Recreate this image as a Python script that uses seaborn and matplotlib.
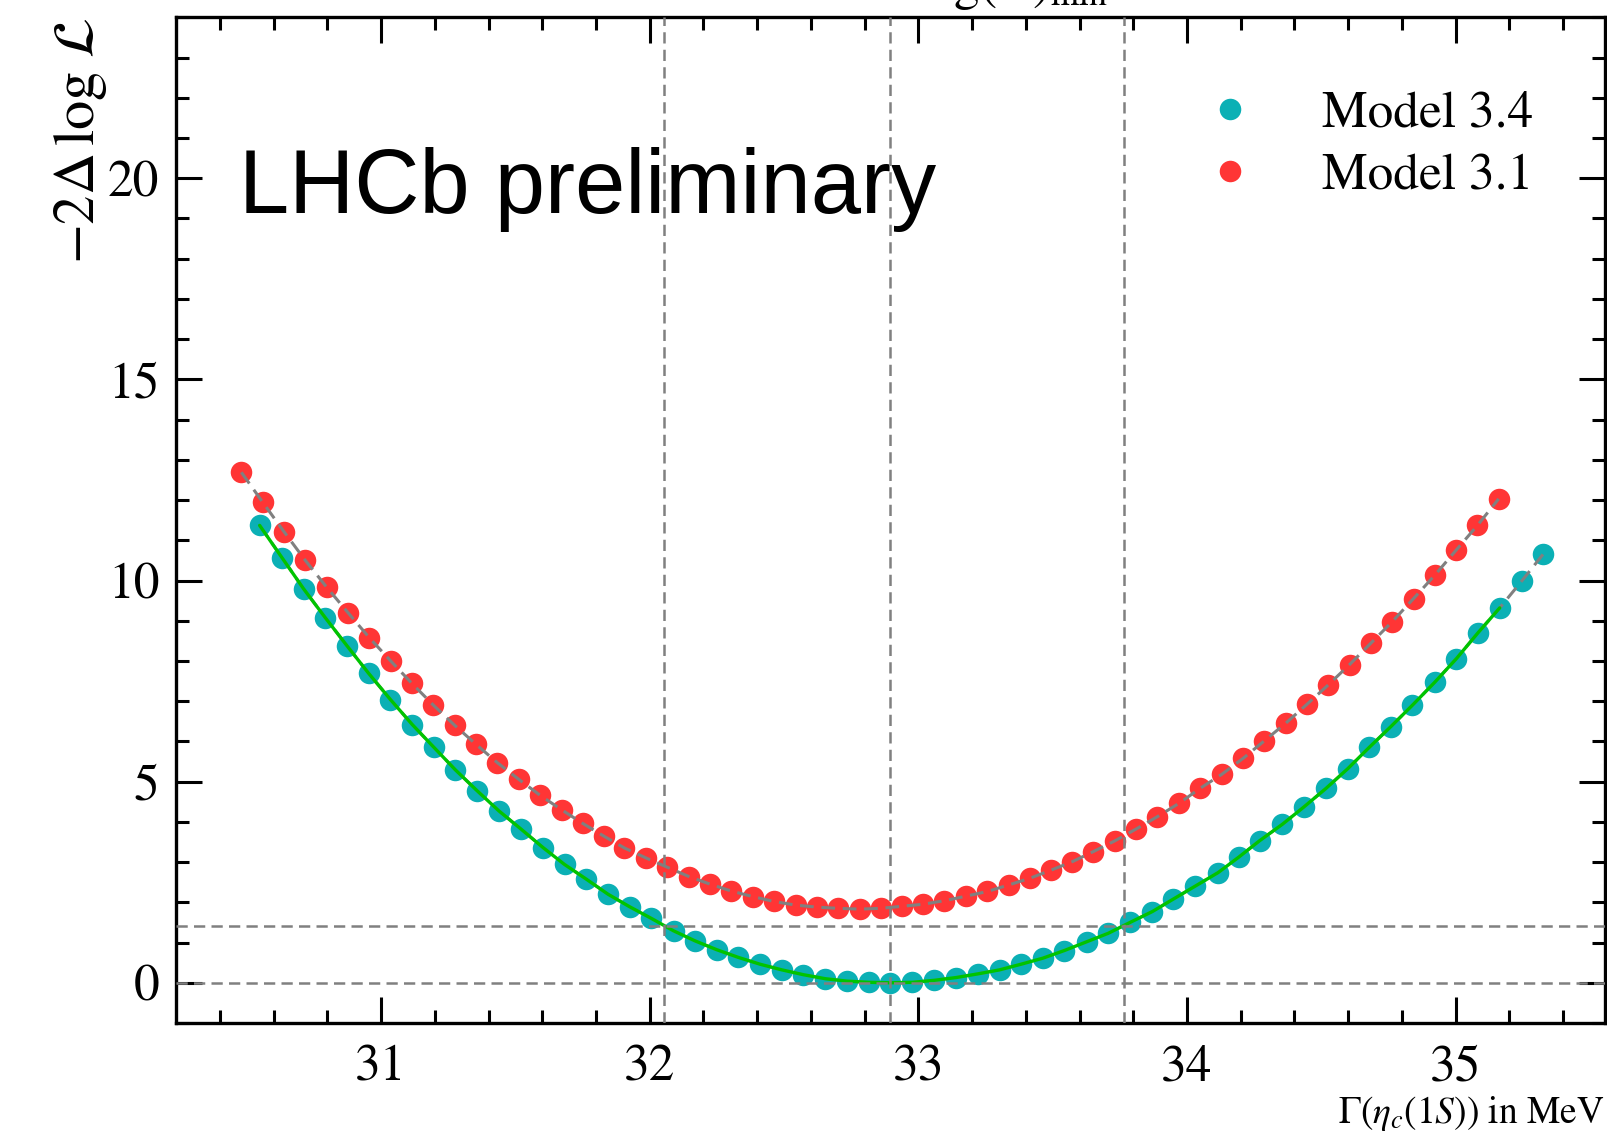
import matplotlib
matplotlib.use("Agg")
import matplotlib.pyplot as plt
import seaborn as sns
from matplotlib.ticker import MultipleLocator
from matplotlib.lines import Line2D

# ----------------------------------------------------
# Likelihood scan values
# ----------------------------------------------------
gamma_34 = [30.548, 30.632, 30.712, 30.793, 30.874, 30.954, 31.035, 31.116, 31.197, 31.277,
            31.358, 31.439, 31.521, 31.603, 31.683, 31.763, 31.845, 31.925, 32.006, 32.089,
            32.169, 32.250, 32.330, 32.411, 32.492, 32.572, 32.654, 32.734, 32.817, 32.895,
            32.977, 33.059, 33.141, 33.221, 33.302, 33.382, 33.463, 33.543, 33.627, 33.707,
            33.788, 33.871, 33.949, 34.030, 34.116, 34.192, 34.270, 34.355, 34.435, 34.517,
            34.598, 34.678, 34.759, 34.839, 34.922, 35.003, 35.083, 35.164, 35.245, 35.325]
nll_34 = [11.37, 10.56, 9.79, 9.07, 8.37, 7.69, 7.04, 6.42, 5.85, 5.29,
          4.77, 4.27, 3.82, 3.36, 2.94, 2.58, 2.20, 1.89, 1.60, 1.29,
          1.04, 0.82, 0.63, 0.46, 0.32, 0.20, 0.10, 0.04, 0.01, 0.00,
          0.01, 0.06, 0.13, 0.22, 0.32, 0.46, 0.61, 0.80, 1.02, 1.23,
          1.50, 1.77, 2.08, 2.40, 2.74, 3.12, 3.53, 3.94, 4.37, 4.83,
          5.32, 5.85, 6.37, 6.90, 7.47, 8.06, 8.70, 9.32, 9.98, 10.65]

gamma_31 = [30.480, 30.560, 30.639, 30.718, 30.798, 30.877, 30.956, 31.036, 31.115, 31.195,
            31.274, 31.353, 31.433, 31.512, 31.592, 31.672, 31.751, 31.828, 31.906, 31.987,
            32.066, 32.146, 32.225, 32.304, 32.384, 32.463, 32.543, 32.622, 32.701, 32.781,
            32.860, 32.938, 33.016, 33.097, 33.176, 33.257, 33.336, 33.416, 33.494, 33.573,
            33.651, 33.732, 33.810, 33.890, 33.970, 34.048, 34.129, 34.209, 34.287, 34.367,
            34.446, 34.525, 34.605, 34.684, 34.763, 34.843, 34.922, 35.001, 35.081, 35.160]
nll_31 = [12.69, 11.94, 11.21, 10.50, 9.83, 9.20, 8.58, 8.00, 7.44, 6.90,
          6.40, 5.93, 5.47, 5.06, 4.66, 4.30, 3.96, 3.65, 3.35, 3.10,
          2.87, 2.64, 2.45, 2.28, 2.14, 2.02, 1.93, 1.88, 1.85, 1.83,
          1.85, 1.90, 1.95, 2.04, 2.15, 2.27, 2.43, 2.60, 2.80, 3.01,
          3.26, 3.53, 3.82, 4.13, 4.46, 4.83, 5.18, 5.58, 6.01, 6.45,
          6.92, 7.40, 7.91, 8.44, 8.97, 9.55, 10.13, 10.75, 11.37, 12.03]

n_fit = 58                      # fitted curve covers the first 58 scan points
v_lines = [32.054, 32.895, 33.765]
h_lines = [0.0, 1.42]

c_34 = "#0BB0B5"
c_31 = "#FF3535"
c_fit = "#00C400"
c_grey = "#808080"

sns.set_style("ticks")
plt.rcParams["font.family"] = ["STIXGeneral", "DejaVu Serif"]
plt.rcParams["mathtext.fontset"] = "stix"
for key in ["text.color", "axes.labelcolor", "xtick.color", "ytick.color"]:
    plt.rcParams[key] = "black"

fig = plt.figure(figsize=(16.08, 11.36), dpi=100)
ax = fig.add_axes([0.1095, 0.0995, 0.8885, 0.8852])

# markers
sns.scatterplot(x=gamma_34, y=nll_34, color=c_34, s=240, linewidth=0, ax=ax, zorder=2)
sns.scatterplot(x=gamma_31, y=nll_31, color=c_31, s=240, linewidth=0, ax=ax, zorder=2)

# connecting lines drawn over the markers
dash = (0, (4.5, 2.5))
sns.lineplot(x=gamma_31, y=nll_31, color=c_grey, lw=2.2, linestyle=dash,
             estimator=None, ax=ax, zorder=3)
sns.lineplot(x=gamma_34, y=nll_34, color=c_grey, lw=2.2, linestyle=dash,
             estimator=None, ax=ax, zorder=3)
sns.lineplot(x=gamma_34[:n_fit], y=nll_34[:n_fit], color=c_fit, lw=2.4,
             estimator=None, ax=ax, zorder=4)

for v in v_lines:
    ax.axvline(v, color=c_grey, lw=1.8, linestyle=dash, zorder=5)
for h in h_lines:
    ax.axhline(h, color=c_grey, lw=1.8, linestyle=dash, zorder=5)

ax.set_xlim(30.237, 35.555)
ax.set_ylim(-1, 24)
ax.xaxis.set_major_locator(MultipleLocator(1))
ax.xaxis.set_minor_locator(MultipleLocator(0.2))
ax.yaxis.set_major_locator(MultipleLocator(5))
ax.yaxis.set_minor_locator(MultipleLocator(1))
ax.tick_params(which="both", direction="in", top=True, right=True, width=2.2, color="black")
ax.tick_params(which="major", length=19, labelsize=37, pad=12)
ax.tick_params(axis="x", which="major", pad=16)
ax.tick_params(which="minor", length=9.5)
for sp in ax.spines.values():
    sp.set_linewidth(2.4)
    sp.set_color("black")

ax.set_xlabel(r"$\Gamma(\eta_c(1S))$ in MeV", loc="right", fontsize=27, labelpad=2)
ax.set_ylabel(r"$-2\Delta\,\log\,\mathcal{L}$", loc="top", fontsize=42)
ax.yaxis.set_label_coords(-0.047, 1.0)

ax.text(0.044, 0.805, "LHCb preliminary", transform=ax.transAxes,
        fontsize=65, family="Liberation Sans", va="baseline", color="black")

# title text sitting mostly above the top edge of the figure, as in the original
fig.text(1108 / 1608, 1 + 1 / 1136, r"$\log(\mathcal{L})_{\min}$",
         ha="right", va="baseline", fontsize=37)

handles = [Line2D([], [], marker="o", linestyle="none", markersize=15.5,
                  markerfacecolor=c, markeredgewidth=0) for c in (c_34, c_31)]
ax.legend(handles, ["Model 3.4", "Model 3.1"], loc="upper right",
          bbox_to_anchor=(0.9825, 0.973), frameon=False, fontsize=37,
          handletextpad=0.8, labelspacing=0.3)

fig.savefig("out.png", dpi=100)
